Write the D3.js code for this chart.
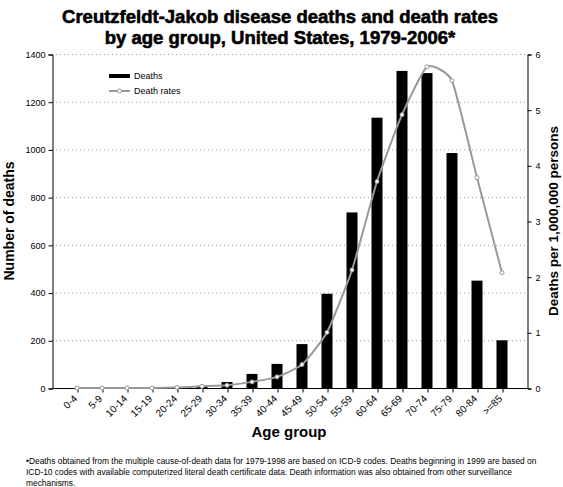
<!DOCTYPE html>
<html>
<head>
<meta charset="utf-8">
<script src="https://cdn.jsdelivr.net/npm/d3@7"></script>
<style>
  html, body { margin: 0; padding: 0; background: #fff; }
  svg { display: block; font-family: Arial, "Liberation Sans", sans-serif; }
</style>
</head>
<body>
<svg id="chart" width="563" height="487"></svg>
<script>
const ageGroups = ["0-4","5-9","10-14","15-19","20-24","25-29","30-34","35-39","40-44","45-49","50-54","55-59","60-64","65-69","70-74","75-79","80-84",">=85"];
const deaths = [0, 0, 0, 1, 3, 9, 25, 59, 101, 184, 395, 736, 1133, 1329, 1320, 985, 450, 200];
const deathRates = [0, 0, 0, 0, 0.01, 0.03, 0.05, 0.11, 0.2, 0.42, 1.0, 2.12, 3.71, 4.91, 5.77, 5.52, 3.78, 2.07];
const leftTicks = [0, 200, 400, 600, 800, 1000, 1200, 1400];
const rightTicks = [0, 1, 2, 3, 4, 5, 6];
const titleLines = ["Creutzfeldt-Jakob disease deaths and death rates", "by age group, United States, 1979-2006*"];
const footnoteLines = [
  "\u2022Deaths obtained from the multiple cause-of-death data for 1979-1998 are based on ICD-9 codes. Deaths beginning in 1999 are based on",
  "ICD-10 codes with available computerized literal death certificate data.  Death information was also obtained from other surveillance",
  "mechanisms."
];

const svg = d3.select("#chart");
const m = { left: 52, right: 527, top: 54, bottom: 388 };

const x = d3.scalePoint().domain(ageGroups).range([m.left, m.right]).padding(1);
const yL = d3.scaleLinear().domain([0, 1400]).range([m.bottom, m.top]);
const yR = d3.scaleLinear().domain([0, 6]).range([m.bottom, m.top]);

// Title
svg.append("g").selectAll("text").data(titleLines).join("text")
  .attr("x", 280).attr("y", (d, i) => 23 + i * 21)
  .attr("text-anchor", "middle")
  .attr("font-size", 18.5).attr("font-weight", "bold")
  .attr("stroke", "#000").attr("stroke-width", 0.6).attr("stroke-linejoin", "round")
  .text(d => d);

// Gridlines
svg.append("g").selectAll("line").data(leftTicks.filter(d => d > 0)).join("line")
  .attr("x1", m.left).attr("x2", m.right)
  .attr("y1", d => yL(d) + 0.5).attr("y2", d => yL(d) + 0.5)
  .attr("stroke", "#9a9a9a").attr("stroke-width", 1).attr("stroke-dasharray", "1,3");

// Bars
const barW = 11;
svg.append("g").selectAll("rect").data(deaths).join("rect")
  .attr("x", (d, i) => x(ageGroups[i]) - barW / 2)
  .attr("y", d => yL(d))
  .attr("width", barW)
  .attr("height", d => yL(0) - yL(d))
  .attr("fill", "#000");

// Axes
const axisL = d3.axisLeft(yL).tickValues(leftTicks).tickFormat(d3.format("d")).tickSize(4).tickPadding(3);
const gL = svg.append("g").attr("transform", `translate(${m.left + 0.5},0.5)`).call(axisL);
const axisR = d3.axisRight(yR).tickValues(rightTicks).tickFormat(d3.format("d")).tickSize(4).tickPadding(4);
const gR = svg.append("g").attr("transform", `translate(${m.right + 0.5},0.5)`).call(axisR);
const axisB = d3.axisBottom(x).tickSize(4).tickSizeOuter(0).tickPadding(3);
const gB = svg.append("g").attr("transform", `translate(0.5,${m.bottom + 0.5})`).call(axisB);
[gL, gR, gB].forEach(g => {
  g.selectAll(".domain").attr("stroke", "#000");
  g.selectAll(".tick line").attr("stroke", "#000");
  g.selectAll("text").attr("font-size", 9).attr("font-family", "Arial, 'Liberation Sans', sans-serif").attr("fill", "#000");
});
gB.selectAll(".domain").attr("d", `M${m.left},0H${m.right}`);
gB.selectAll(".tick text")
  .attr("text-anchor", "end")
  .attr("dy", null)
  .attr("font-size", 10)
  .attr("transform", "translate(-3,8) rotate(-45)")
  .attr("x", 0).attr("y", 4);

// Death rate line
const line = d3.line()
  .x((d, i) => x(ageGroups[i]))
  .y(d => yR(d))
  .curve(d3.curveCardinal.tension(0.5));
svg.append("path").datum(deathRates)
  .attr("d", line)
  .attr("fill", "none").attr("stroke", "#999").attr("stroke-width", 2);
svg.append("g").selectAll("circle").data(deathRates).join("circle")
  .attr("cx", (d, i) => x(ageGroups[i]))
  .attr("cy", d => yR(d))
  .attr("r", 2)
  .attr("fill", "#fff").attr("stroke", "#999").attr("stroke-width", 1);

// Axis titles
svg.append("text")
  .attr("transform", `translate(14,${(m.top + m.bottom) / 2}) rotate(-90)`)
  .attr("text-anchor", "middle").attr("font-size", 14).attr("font-weight", "bold")
  .text("Number of deaths");
svg.append("text")
  .attr("transform", `translate(558,${(m.top + m.bottom) / 2}) rotate(-90)`)
  .attr("text-anchor", "middle").attr("font-size", 13.5).attr("font-weight", "bold")
  .text("Deaths per 1,000,000 persons");
svg.append("text")
  .attr("x", 289).attr("y", 437)
  .attr("text-anchor", "middle").attr("font-size", 15).attr("font-weight", "bold")
  .text("Age group");

// Legend
const lg = svg.append("g");
lg.append("rect").attr("x", 109).attr("y", 74).attr("width", 21).attr("height", 4).attr("fill", "#000");
lg.append("text").attr("x", 134).attr("y", 79).attr("font-size", 9).text("Deaths");
lg.append("line").attr("x1", 109).attr("x2", 130).attr("y1", 91).attr("y2", 91)
  .attr("stroke", "#999").attr("stroke-width", 2);
lg.append("circle").attr("cx", 119.5).attr("cy", 91).attr("r", 2)
  .attr("fill", "#fff").attr("stroke", "#999");
lg.append("text").attr("x", 134).attr("y", 94).attr("font-size", 9).text("Death rates");

// Footnote
svg.append("g").selectAll("text").data(footnoteLines).join("text")
  .attr("x", 26).attr("y", (d, i) => 464 + i * 11)
  .attr("font-size", 8.4).attr("fill", "#000")
  .text(d => d);
</script>
</body>
</html>
